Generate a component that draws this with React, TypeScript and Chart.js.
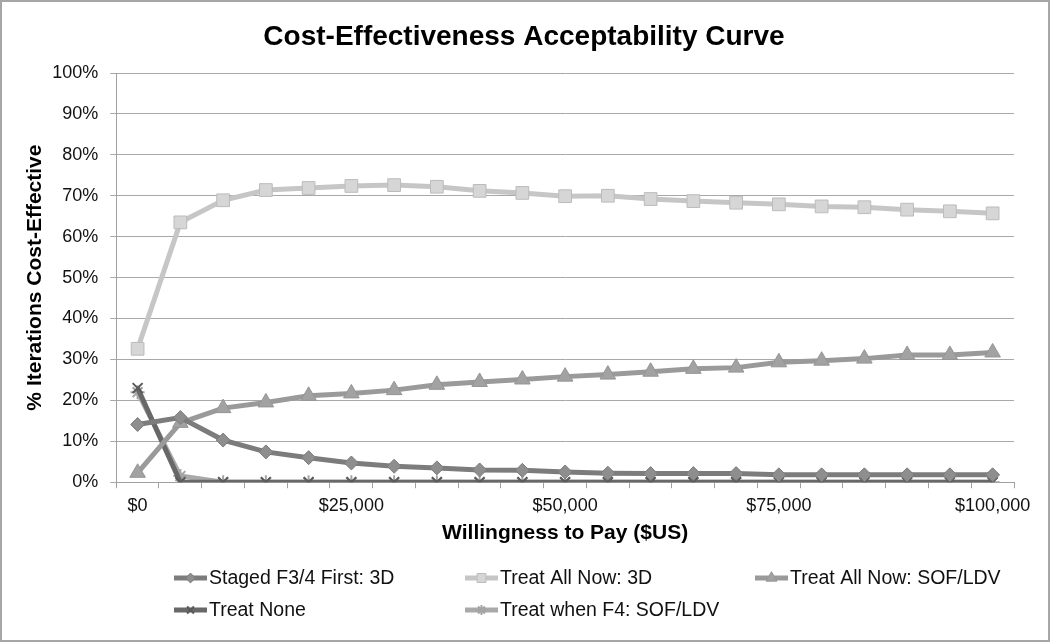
import React, { useEffect, useRef } from "react";
import { Chart, registerables } from "chart.js";
import { drawPoint } from "chart.js/helpers";

Chart.register(...registerables);

const wtpCategories = [
  0, 5000, 10000, 15000, 20000, 25000, 30000, 35000, 40000, 45000, 50000,
  55000, 60000, 65000, 70000, 75000, 80000, 85000, 90000, 95000, 100000,
];
const shownTicks = [0, 25000, 50000, 75000, 100000];

const stagedF34 = [14.1, 15.8, 10.3, 7.4, 6.0, 4.7, 3.9, 3.5, 3.0, 2.9, 2.5, 2.2, 2.1, 2.1, 2.1, 1.8, 1.8, 1.8, 1.8, 1.8, 1.8];
const treatAll3D = [32.6, 63.5, 68.9, 71.4, 71.9, 72.4, 72.6, 72.2, 71.2, 70.7, 69.9, 70.0, 69.2, 68.7, 68.3, 67.9, 67.4, 67.2, 66.6, 66.2, 65.7];
const treatAllSofLdv = [2.3, 14.5, 18.1, 19.5, 21.1, 21.7, 22.5, 23.8, 24.5, 25.1, 25.8, 26.3, 27.0, 27.7, 28.0, 29.3, 29.7, 30.2, 31.1, 31.1, 31.7];
const treatNone = [23, 0, 0, 0, 0, 0, 0, 0, 0, 0, 0, 0, 0, 0, 0, 0, 0, 0, 0, 0, 0];
const treatWhenF4 = [22, 1.5, 0, 0, 0, 0, 0, 0, 0, 0, 0, 0, 0, 0, 0, 0, 0, 0, 0, 0, 0];

const seriesNames = [
  "Staged F3/4 First: 3D",
  "Treat All Now: 3D",
  "Treat All Now: SOF/LDV",
  "Treat None",
  "Treat when F4: SOF/LDV",
];
const chartTitle = "Cost-Effectiveness Acceptability Curve";

const FONT = "'Liberation Sans', Arial, Helvetica, sans-serif";

const titleLegendPlugin = {
  id: "titleGridLegend",
  afterDraw(chart: any) {
    const ctx = chart.ctx;
    ctx.save();
    // title
    ctx.fillStyle = "#000";
    ctx.font = `bold 28px ${FONT}`;
    ctx.textAlign = "center";
    ctx.textBaseline = "middle";
    ctx.fillText(chartTitle, 522, 35);
    // legend (3 columns, 2 rows)
    const cols = [172, 463, 753];
    const rows = [576, 608];
    chart.data.datasets.forEach((ds: any, i: number) => {
      const x = cols[i % 3];
      const y = rows[Math.floor(i / 3)];
      const w = 33;
      ctx.strokeStyle = ds.borderColor;
      ctx.lineWidth = 5;
      ctx.lineCap = "butt";
      ctx.beginPath();
      ctx.moveTo(x, y);
      ctx.lineTo(x + w, y);
      ctx.stroke();
      ctx.fillStyle = ds.pointBackgroundColor;
      ctx.strokeStyle = ds.pointBorderColor;
      ctx.lineWidth = ds.pointBorderWidth;
      drawPoint(
        ctx,
        { pointStyle: ds.pointStyle, rotation: 0, radius: ds.pointRadius * 0.7, borderWidth: ds.pointBorderWidth },
        x + w / 2,
        y
      );
      ctx.fillStyle = "#111";
      ctx.font = `19.5px ${FONT}`;
      ctx.textBaseline = "middle";
      ctx.textAlign = "left";
      ctx.fillText(ds.label, x + w + 2, y + 1);
    });
    ctx.restore();
  },
};

export default function App() {
  const ref = useRef<HTMLCanvasElement>(null);
  useEffect(() => {
    document.body.style.margin = "0";
    const mk = (
      label: string,
      data: number[],
      color: string,
      fill: string,
      border: string,
      style: string,
      radius: number,
      bw: number
    ) => ({
      label,
      data,
      borderColor: color,
      backgroundColor: color,
      borderWidth: 5,
      pointStyle: style,
      pointRadius: radius,
      pointBackgroundColor: fill,
      pointBorderColor: border,
      pointBorderWidth: bw,
      tension: 0,
    });
    const chart = new Chart(ref.current!, {
      type: "line",
      data: {
        labels: wtpCategories,
        datasets: [
          mk(seriesNames[0], stagedF34, "#7c7c7c", "#8e8e8e", "#7c7c7c", "rectRot", 7, 1),
          mk(seriesNames[1], treatAll3D, "#c6c6c6", "#d6d6d6", "#bcbcbc", "rect", 9, 1),
          mk(seriesNames[2], treatAllSofLdv, "#9a9a9a", "#a2a2a2", "#959595", "triangle", 9, 1),
          mk(seriesNames[3], treatNone, "#686868", "#686868", "#5a5a5a", "crossRot", 7, 2),
          mk(seriesNames[4], treatWhenF4, "#a9a9a9", "#a9a9a9", "#a4a4a4", "star", 7, 2),
        ],
      },
      options: {
        animation: false,
        responsive: false,
        maintainAspectRatio: false,
        layout: { padding: { left: 10, right: 34, top: 71, bottom: 90 } },
        plugins: {
          legend: { display: false },
          tooltip: { enabled: false },
          title: { display: false },
        },
        scales: {
          x: {
            type: "category",
            offset: true,
            grid: {
              offset: true,
              drawOnChartArea: false,
              drawTicks: true,
              tickLength: 6,
              color: "#a0a0a0",
            },
            border: { display: true, color: "#a0a0a0", width: 1 },
            ticks: {
              autoSkip: false,
              maxRotation: 0,
              minRotation: 0,
              padding: 7,
              color: "#111",
              font: { family: FONT, size: 18 },
              callback: (_v: any, idx: number) => {
                const v = wtpCategories[idx];
                return shownTicks.includes(v) ? "$" + v.toLocaleString("en-US") : "";
              },
            },
            title: {
              display: true,
              text: "Willingness to Pay ($US)",
              color: "#000",
              font: { family: FONT, size: 21, weight: "bold" },
              padding: { top: -3, bottom: 4 },
            },
          },
          y: {
            min: 0,
            max: 100,
            grid: { color: "#a8a8a8", tickLength: 6, lineWidth: 1 },
            border: { display: true, color: "#a0a0a0", width: 1 },
            ticks: {
              stepSize: 10,
              padding: 12,
              color: "#111",
              font: { family: FONT, size: 18 },
              callback: (v: any) => v + "%",
            },
            title: {
              display: true,
              text: "% Iterations Cost-Effective",
              color: "#000",
              font: { family: FONT, size: 21, weight: "bold" },
              padding: { top: 11, bottom: -8 },
            },
          },
        },
      },
      plugins: [titleLegendPlugin],
    } as any);
    return () => chart.destroy();
  }, []);
  return (
    <div
      style={{
        width: 1050,
        height: 642,
        boxSizing: "border-box",
        border: "2px solid #a6a6a6",
        background: "#fff",
      }}
    >
      <canvas ref={ref} width={1046} height={638} style={{ display: "block" }} />
    </div>
  );
}
